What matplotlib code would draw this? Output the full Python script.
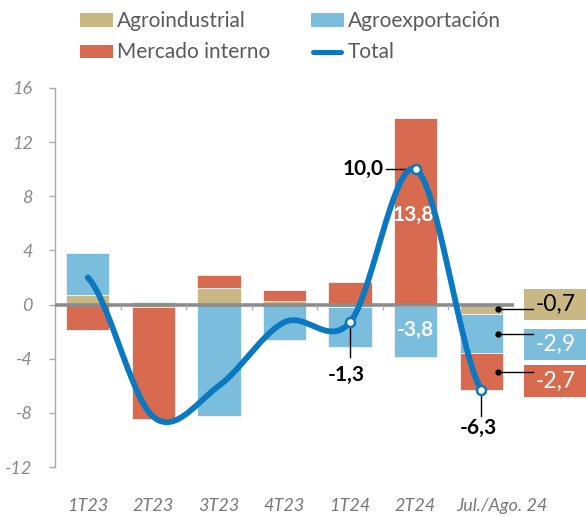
import numpy as np
import matplotlib
matplotlib.use("Agg")
import matplotlib.pyplot as plt
from matplotlib.patches import Rectangle
from matplotlib.lines import Line2D
import matplotlib.transforms as mtransforms

plt.rcParams['font.family'] = ['Lato', 'DejaVu Sans']

categories = ["1T23", "2T23", "3T23", "4T23", "1T24", "2T24", "Jul./Ago. 24"]
agroindustrial = [0.7, -0.15, 1.2, 0.3, -0.2, -0.1, -0.7]
agroexportacion = [3.1, 0.2, -8.2, -2.6, -2.9, -3.8, -2.9]
mercado_interno = [-1.9, -8.3, 0.95, 0.8, 1.7, 13.8, -2.7]
total = [2.0, -8.3, -6.0, -1.3, -1.3, 10.0, -6.3]
yticks = [16, 12, 8, 4, 0, -4, -8, -12]

C_AI = '#C9B784'
C_AE = '#7BBDDC'
C_MI = '#D76A4F'
C_TOT = '#0A79C1'
GRAY_T = '#8a8a8a'

W, H = 586, 517
fig = plt.figure(figsize=(W / 100, H / 100), dpi=100)
ax = fig.add_axes([55 / W, 1 - 467 / H, (514 - 55) / W, (467 - 88) / H])

x = np.arange(len(categories))
series = [(agroindustrial, C_AI), (agroexportacion, C_AE), (mercado_interno, C_MI)]
pos_base = np.zeros(len(x))
neg_base = np.zeros(len(x))
seg_centers = {}
for k, (vals, col) in enumerate(series):
    vals = np.array(vals, dtype=float)
    bottoms = np.where(vals >= 0, pos_base, neg_base)
    ax.bar(x, vals, bottom=bottoms, width=0.66, color=col,
           edgecolor='#f4f4f4', linewidth=0.6, zorder=2)
    seg_centers[k] = bottoms + vals / 2
    pos_base = np.where(vals >= 0, pos_base + vals, pos_base)
    neg_base = np.where(vals < 0, neg_base + vals, neg_base)

ax.set_xlim(-0.5, len(x) - 0.5)
ax.set_ylim(-12, 16)

# zero line and small ticks
ax.axhline(0, color='#8c8c8c', lw=2.6, zorder=3)
for b in np.arange(0.5, len(x), 1.0):
    ax.plot([b, b], [0, -0.4], color='#b0b0b0', lw=1, zorder=3, solid_capstyle='butt')


# Catmull-Rom spline for total
def catmull_rom(xp, yp, per=100):
    xp = np.asarray(xp, float); yp = np.asarray(yp, float)
    n = len(xp)
    m = np.zeros(n)
    for i in range(n):
        a = max(i - 1, 0); b = min(i + 1, n - 1)
        m[i] = (yp[b] - yp[a]) / 2.0
    X, Y = [], []
    for i in range(n - 1):
        t = np.linspace(0, 1, per, endpoint=(i == n - 2))
        h00 = 2 * t ** 3 - 3 * t ** 2 + 1
        h10 = t ** 3 - 2 * t ** 2 + t
        h01 = -2 * t ** 3 + 3 * t ** 2
        h11 = t ** 3 - t ** 2
        Y.append(h00 * yp[i] + h10 * m[i] + h01 * yp[i + 1] + h11 * m[i + 1])
        X.append(xp[i] + t * (xp[i + 1] - xp[i]))
    return np.concatenate(X), np.concatenate(Y)


xs, ys = catmull_rom(x, total)
ax.plot(xs, ys, color=C_TOT, lw=4.2, zorder=5, solid_capstyle='round')
mk = [4, 5, 6]
ax.plot(x[mk], np.array(total)[mk], 'o', ms=6.5, mfc='white', mec=C_TOT, mew=1.8, zorder=6)


def fmt(v):
    return f"{v:.1f}".replace('.', ',')


# annotations for total
ax.plot([4, 4], [total[4], total[4] - 2.6], color='black', lw=1, zorder=4)
ax.text(4 - 0.05, total[4] - 3.9, fmt(total[4]), ha='center', va='center',
        fontsize=15, fontweight='bold', color='black')
ax.plot([5, 5 - 0.45], [total[5], total[5]], color='black', lw=1, zorder=4)
ax.text(5 - 0.49, total[5], fmt(total[5]), ha='right', va='center',
        fontsize=15, fontweight='bold', color='black')
ax.plot([6, 6], [total[6], total[6] - 1.9], color='black', lw=1, zorder=4)
ax.text(6 - 0.05, total[6] - 2.85, fmt(total[6]), ha='center', va='center',
        fontsize=15, fontweight='bold', color='black')

# labels inside 2T24 bar
ax.text(5 - 0.03, seg_centers[2][5] - 0.3, fmt(mercado_interno[5]), ha='center', va='center',
        fontsize=15, fontweight='bold', color='white', zorder=4)
ax.text(5, seg_centers[1][5] + 0.1, fmt(agroexportacion[5]), ha='center', va='center',
        fontsize=15, fontweight='bold', color='white', zorder=4)

# side boxes for last period
box_y = [0.0, -2.92, -5.65]
box_cols = [C_AI, C_AE, C_MI]
box_txt_cols = ['black', 'white', 'white']
vals_last = [agroindustrial[-1], agroexportacion[-1], mercado_interno[-1]]
for k in range(3):
    ax.add_patch(Rectangle((6.655, box_y[k] - 1.15), 1.0, 2.3, facecolor=box_cols[k],
                           edgecolor='none', clip_on=False, zorder=3))
    yc = seg_centers[k][6]
    ax.plot([6.25, 6.79], [yc, yc], color='black', lw=1, clip_on=False, zorder=4)
    ax.plot([6.25], [yc], 'o', color='black', ms=3.5, zorder=4)
    ax.text(7.13, box_y[k], fmt(vals_last[k]), ha='center', va='center', fontsize=16.5,
            color=box_txt_cols[k], zorder=5, clip_on=False)

# axes styling
for s in ['top', 'right', 'bottom']:
    ax.spines[s].set_visible(False)
ax.spines['left'].set_color('#aaaaaa')
ax.spines['left'].set_linewidth(1)
ax.set_yticks(yticks)
ax.set_yticklabels([str(t) for t in yticks], fontstyle='italic')
ax.tick_params(axis='y', length=4, width=1, color='#aaaaaa', pad=12, labelsize=13, labelcolor=GRAY_T)
ax.set_xticks(x)
ax.set_xticklabels(categories, fontstyle='italic')
ax.tick_params(axis='x', length=0, pad=22, labelsize=13, labelcolor='#777777')
off = mtransforms.ScaledTranslation(21 / 100, 0, fig.dpi_scale_trans)
lab = ax.get_xticklabels()[-1]
lab.set_transform(lab.get_transform() + off)


# legend (manual)
def fx(px):
    return px / W


def fy(py):
    return 1 - py / H


leg = [(80, 13.5, C_AI, 'patch', 'Agroindustrial'),
       (80, 44.5, C_MI, 'patch', 'Mercado interno'),
       (311, 13.5, C_AE, 'patch', 'Agroexportación'),
       (311, 44.5, C_TOT, 'line', 'Total')]
for (px, py, col, kind, label) in leg:
    if kind == 'patch':
        fig.add_artist(Rectangle((fx(px), fy(py + 13)), fx(33), 13 / H, facecolor=col,
                                 edgecolor='none', transform=fig.transFigure))
    else:
        fig.add_artist(Line2D([fx(px + 2), fx(px + 30)], [fy(py + 7), fy(py + 7)], color=col,
                              lw=3.6, solid_capstyle='round', transform=fig.transFigure))
    fig.text(fx(px + 37), fy(py + 13.5), label, ha='left', va='baseline', fontsize=15,
             color='#5a5a5a')

fig.savefig('out.png', dpi=100)
